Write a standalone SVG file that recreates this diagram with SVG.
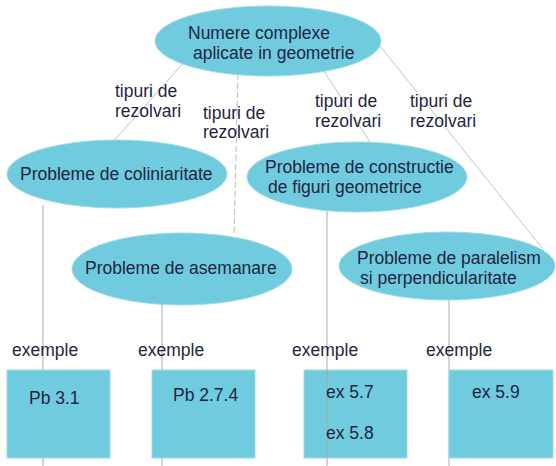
<svg xmlns="http://www.w3.org/2000/svg" width="556" height="466" viewBox="0 0 556 466">
<style>
.n{fill:#70cbdf;stroke:#9fdbe8;stroke-width:1}
.t{font-family:"Liberation Sans",Arial,sans-serif;font-size:17.5px;fill:#1f2540}
.c{stroke:#c4c4c4;stroke-width:1;fill:none}
.v{stroke:#a8a8a8;stroke-width:1;fill:none}
.d{stroke:#bcbcbc;stroke-width:1;fill:none;stroke-dasharray:6 3}
</style>
<rect width="556" height="466" fill="#ffffff"/>
<g id="connectors">
<line class="c" x1="195" y1="50" x2="110" y2="145"/>
<line class="d" x1="238" y1="74" x2="234" y2="236"/>
<line class="c" x1="318" y1="62" x2="372" y2="145"/>
<line class="c" x1="372" y1="36" x2="542" y2="248"/>
<line class="v" x1="43" y1="205" x2="43" y2="466"/>
<line class="v" x1="162" y1="300" x2="162" y2="466"/>
<line class="v" x1="327" y1="208" x2="327" y2="466"/>
<line class="v" x1="449" y1="296" x2="449" y2="466"/>
</g>
<g id="root">
<ellipse class="n" cx="268" cy="41" rx="113" ry="35"/>
<text class="t" x="188" y="39">Numere complexe</text>
<text class="t" x="193" y="59">aplicate in geometrie</text>
</g>
<g id="lbl1"><text class="t" x="115" y="97">tipuri de</text><text class="t" x="115" y="117">rezolvari</text></g>
<g id="lbl2"><text class="t" x="203" y="119">tipuri de</text><text class="t" x="203" y="138">rezolvari</text></g>
<g id="lbl3"><text class="t" x="315" y="107">tipuri de</text><text class="t" x="315" y="127">rezolvari</text></g>
<g id="lbl4"><text class="t" x="410" y="107">tipuri de</text><text class="t" x="410" y="127">rezolvari</text></g>
<g id="coliniaritate">
<ellipse class="n" cx="117" cy="174" rx="110" ry="34"/>
<text class="t" x="20" y="180">Probleme de coliniaritate</text>
</g>
<g id="constructie">
<ellipse class="n" cx="357" cy="177" rx="110" ry="35"/>
<text class="t" x="265" y="173">Probleme de constructie</text>
<text class="t" x="268" y="193">de figuri geometrice</text>
</g>
<g id="asemanare">
<ellipse class="n" cx="182" cy="269" rx="110" ry="36"/>
<text class="t" x="85" y="274">Probleme de asemanare</text>
</g>
<g id="paralelism">
<ellipse class="n" cx="447" cy="266" rx="108" ry="34"/>
<text class="t" x="357" y="264">Probleme de paralelism</text>
<text class="t" x="360" y="284">si perpendicularitate</text>
</g>
<g id="ex1lbl"><text class="t" x="12" y="356">exemple</text></g>
<g id="ex2lbl"><text class="t" x="138" y="356">exemple</text></g>
<g id="ex3lbl"><text class="t" x="292" y="356">exemple</text></g>
<g id="ex4lbl"><text class="t" x="426" y="356">exemple</text></g>
<g id="pb31"><rect class="n" x="7" y="370" width="103" height="88"/><text class="t" x="29" y="404">Pb 3.1</text></g>
<g id="pb274"><rect class="n" x="152" y="370" width="103" height="88"/><text class="t" x="173" y="401">Pb 2.7.4</text></g>
<g id="ex578"><rect class="n" x="304" y="370" width="103" height="88"/><line class="v" x1="327" y1="370" x2="327" y2="458"/><text class="t" x="326" y="398">ex 5.7</text><text class="t" x="326" y="439">ex 5.8</text></g>
<g id="ex59"><rect class="n" x="449" y="370" width="104" height="88"/><text class="t" x="472" y="398">ex 5.9</text></g>
</svg>
